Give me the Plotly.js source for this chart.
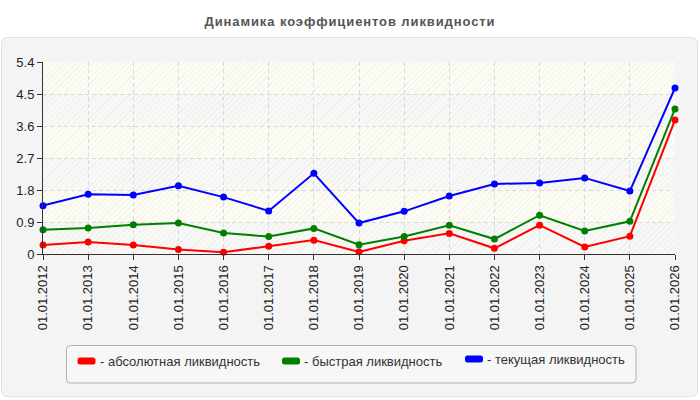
<!DOCTYPE html>
<html>
<head>
<meta charset="utf-8">
<script src="https://cdn.plot.ly/plotly-3.0.1.min.js"></script>
<style>
  html, body { margin:0; padding:0; background:#ffffff; }
  #wrap { position:relative; width:700px; height:400px; overflow:hidden; }
  #panel { position:absolute; left:1px; top:37px; width:695px; height:358px;
           background:#f4f4f4; border:1px solid #e2e2e2; border-radius:6px; }
  #plotbg { position:absolute; left:43px; top:62px; width:632px; height:192px;
           background:
             repeating-linear-gradient(135deg, rgba(0,0,0,0.035) 0px, rgba(0,0,0,0.035) 1px, rgba(0,0,0,0) 1px, rgba(0,0,0,0) 4px),
             repeating-linear-gradient(to bottom, #fcfcf5 0px, #fcfcf5 32px, #f8f8f6 32px, #f8f8f6 64px); }
  #chart { position:absolute; left:0; top:0; width:700px; height:400px; }
  #chart .gtitle { letter-spacing: 0.9px; }
</style>
</head>
<body>
<div id="wrap">
  <div id="panel"></div>
  <div id="plotbg"></div>
  <div id="chart"></div>
</div>
<script>
// ---- data ----
const categories = ["01.01.2012","01.01.2013","01.01.2014","01.01.2015","01.01.2016",
  "01.01.2017","01.01.2018","01.01.2019","01.01.2020","01.01.2021","01.01.2022",
  "01.01.2023","01.01.2024","01.01.2025","01.01.2026"];
const absoluteLiquidity = [0.25,0.34,0.25,0.13,0.05,0.22,0.39,0.06,0.37,0.58,0.16,0.81,0.20,0.50,3.77];
const quickLiquidity    = [0.68,0.73,0.82,0.87,0.59,0.49,0.72,0.26,0.49,0.81,0.42,1.09,0.65,0.92,4.08];
const currentLiquidity  = [1.36,1.68,1.66,1.92,1.60,1.21,2.27,0.87,1.20,1.63,1.97,2.00,2.14,1.77,4.67];
const seriesNames = ["- абсолютная ликвидность","- быстрая ликвидность","- текущая ликвидность"];
const seriesColors = ["#ff0000","#008000","#0000ff"];
const yTickVals = [0,0.9,1.8,2.7,3.6,4.5,5.4];
const yTickText = ["0","0.9","1.8","2.7","3.6","4.5","5.4"];
const titleText = "Динамика коэффициентов ликвидности";

// ---- layout geometry ----
const W = 700, H = 400;
const L = 43, R = 675, T = 62, B = 254;
const px = v => (v - L) / (R - L);
const py = v => (B - v) / (B - T);
const FONT = "Liberation Sans, Arial, sans-serif";

const allSeries = [absoluteLiquidity, quickLiquidity, currentLiquidity];
const traces = allSeries.map((ys, i) => ({
  type: "scatter", mode: "lines+markers",
  x: categories, y: ys, name: seriesNames[i],
  line: { color: seriesColors[i], width: 2 },
  marker: { color: seriesColors[i], size: 7 },
  cliponaxis: false,
  showlegend: false, hoverinfo: "skip"
}));

// rounded rect path in paper coords from pixel box
function roundRect(x0, y0, x1, y1, r) {
  const X = px, Y = py;
  return "M" + X(x0 + r) + "," + Y(y0) +
    " L" + X(x1 - r) + "," + Y(y0) +
    " Q" + X(x1) + "," + Y(y0) + " " + X(x1) + "," + Y(y0 + r) +
    " L" + X(x1) + "," + Y(y1 - r) +
    " Q" + X(x1) + "," + Y(y1) + " " + X(x1 - r) + "," + Y(y1) +
    " L" + X(x0 + r) + "," + Y(y1) +
    " Q" + X(x0) + "," + Y(y1) + " " + X(x0) + "," + Y(y1 - r) +
    " L" + X(x0) + "," + Y(y0 + r) +
    " Q" + X(x0) + "," + Y(y0) + " " + X(x0 + r) + "," + Y(y0) + " Z";
}

const legendItems = [
  { sw: 77.5, tx: 98, cy: 361 },
  { sw: 282, tx: 302, cy: 361 },
  { sw: 465, tx: 485, cy: 359 }
];

const shapes = [{
  type: "path", xref: "paper", yref: "paper",
  path: roundRect(66.5, 345.5, 636, 383, 4),
  fillcolor: "#f7f7f7", line: { color: "#b0b0b0", width: 1 }
}];
const annotations = [];
legendItems.forEach((it, i) => {
  shapes.push({
    type: "path", xref: "paper", yref: "paper",
    path: roundRect(it.sw, it.cy - 3.5, it.sw + 18, it.cy + 3.5, 2.5),
    fillcolor: seriesColors[i], line: { width: 0 }
  });
  annotations.push({
    xref: "paper", yref: "paper", x: px(it.tx), y: py(it.cy),
    xanchor: "left", yanchor: "middle", showarrow: false,
    text: seriesNames[i], font: { family: FONT, size: 13, color: "#333333" }
  });
});

const layout = {
  width: W, height: H,
  margin: { l: L, r: W - R, t: T, b: H - B, pad: 0 },
  paper_bgcolor: "rgba(0,0,0,0)",
  plot_bgcolor: "rgba(0,0,0,0)",
  font: { family: FONT, size: 13, color: "#222222" },
  title: {
    text: "<b>" + titleText + "</b>",
    font: { family: FONT, size: 13, color: "#555555" },
    xref: "container", x: 0.5, xanchor: "center",
    yref: "container", y: 1 - 21 / H, yanchor: "middle"
  },
  xaxis: {
    type: "category", range: [0, categories.length - 1],
    showline: true, linecolor: "#333333", linewidth: 1,
    ticks: "outside", ticklen: 5, tickcolor: "#333333",
    tickangle: -90, tickfont: { family: FONT, size: 13, color: "#222222" },
    showgrid: true, gridcolor: "#d9d9d9", griddash: "4px,3px", gridwidth: 1,
    zeroline: false, fixedrange: true
  },
  yaxis: {
    range: [0, 5.4], tickmode: "array", tickvals: yTickVals, ticktext: yTickText,
    showline: true, linecolor: "#333333", linewidth: 1,
    ticks: "outside", ticklen: 5, tickcolor: "#333333",
    tickfont: { family: FONT, size: 13, color: "#222222" },
    showgrid: true, gridcolor: "#d9d9d9", griddash: "4px,3px", gridwidth: 1,
    zeroline: false, fixedrange: true
  },
  shapes: shapes,
  annotations: annotations,
  showlegend: false
};

Plotly.newPlot("chart", traces, layout, { staticPlot: true, displayModeBar: false });
</script>
</body>
</html>
